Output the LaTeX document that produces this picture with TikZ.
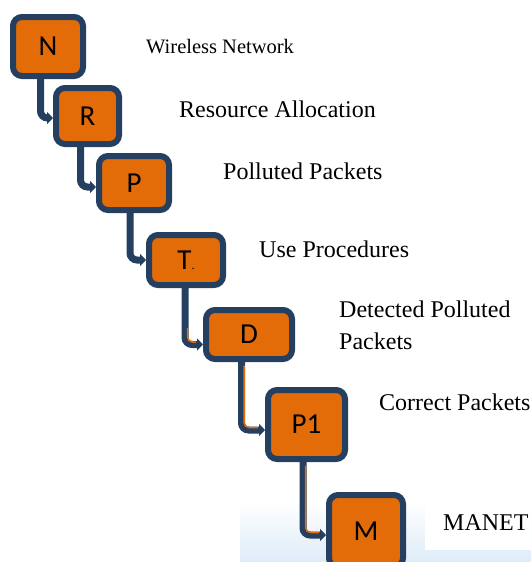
\documentclass[tikz,border=0pt]{standalone}
\usepackage{fontspec}
\setmainfont{Liberation Serif}
\newfontfamily\boxfont{Carlito}
\usetikzlibrary{arrows.meta}
\definecolor{boxorange}{RGB}{227,108,9}
\definecolor{boxblue}{RGB}{36,63,96}
\definecolor{paleblue}{RGB}{222,236,248}
\begin{document}
\begin{tikzpicture}[x=1pt,y=-1pt,
  step box/.style={draw=boxblue,fill=boxorange,line width=6pt,rounded corners=9pt,
    inner sep=0pt,font=\boxfont\fontsize{29}{29}\selectfont},
  link/.style={draw=boxblue,line width=7pt,rounded corners=7pt,
    -{Triangle[length=6pt,width=12pt]}},
  inlay/.style={draw=boxorange,line width=1.5pt,rounded corners=5pt},
  caption/.style={anchor=west,inner sep=0pt,font=\fontsize{24}{32}\selectfont,align=left}]
\useasboundingbox (0,0) rectangle (531,562);
% faint picture at the bottom right
\shade[top color=white,bottom color=paleblue] (240,500) rectangle (531,562);
\fill[white] (425,490) rectangle (531,550);
% the steps
\node[step box,minimum width=70pt,minimum height=59pt] (N) at (48,46.5) {N};
\node[step box,minimum width=63pt,minimum height=56pt] (R) at (87.5,116) {R};
\node[step box,minimum width=70pt,minimum height=54pt] (P) at (134,183) {P};
\node[step box,minimum width=74pt,minimum height=50pt] (T) at (186,260) {T\raisebox{0pt}{\fontsize{12}{12}\selectfont .}};
\node[step box,minimum width=86pt,minimum height=49pt] (D) at (249,334.5) {D};
\node[step box,minimum width=77pt,minimum height=69pt] (P1) at (306.5,424.5) {P1};
\node[step box,minimum width=74pt,minimum height=72pt] (M) at (366,531) {M};
% connectors
\draw[link] ([xshift=-7.5pt]N.south) |- ([yshift=-2pt]R.west);
\draw[link] ([xshift=-7pt]R.south) |- ([yshift=-4pt]P.west);
\draw[link] ([xshift=-4pt]P.south) |- (T.west);
\draw[link] ([xshift=-1pt]T.south) |- ([yshift=-10pt]D.west);
\draw[inlay] ([xshift=1.5pt,yshift=-40pt]T.south) |- ([xshift=-7pt,yshift=-7.5pt]D.west);
\draw[link] ([xshift=-7.5pt]D.south) |- ([yshift=-5.5pt]P1.west);
\draw[inlay] ([xshift=-5pt,yshift=-3.5pt]D.south) |- ([xshift=-7pt,yshift=-3pt]P1.west);
\draw[link] ([xshift=-3.5pt]P1.south) |- ([yshift=-4pt]M.west);
\draw[inlay] ([xshift=-1pt,yshift=-3.5pt]P1.south) |- ([xshift=-7pt,yshift=-1.5pt]M.west);
% labels
\node[caption,font=\fontsize{20.5}{24}\selectfont] (tN) at (146,47) {Wireless Network};
\node[caption] (tR) at (179,109) {Resource Allocation};
\node[caption] (tP) at (223,171) {Polluted Packets};
\node[caption] (tT) at (259,249) {Use Procedures};
\node[caption] (tD) at (339,325) {Detected Polluted\\Packets};
\node[caption] (tP1) at (379,402) {Correct Packets};
\node[caption] (tM) at (443,523) {MANET};
\end{tikzpicture}
\end{document}
